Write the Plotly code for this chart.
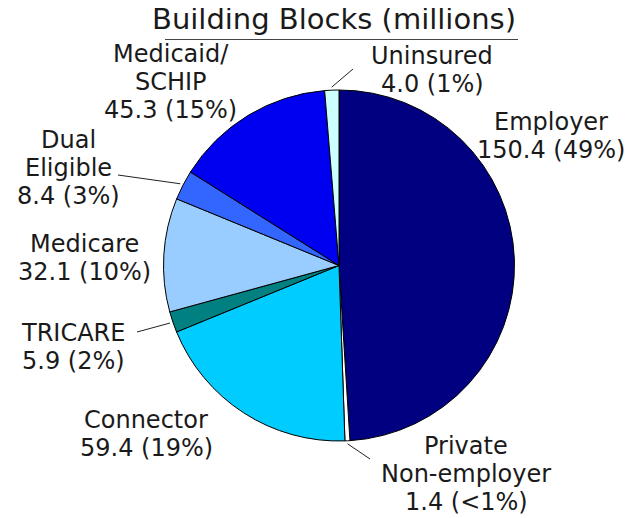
import math
import plotly.graph_objects as go

# ---- data ----
categories = ["Employer", "Private Non-employer", "Connector", "TRICARE",
              "Medicare", "Dual Eligible", "Medicaid/SCHIP", "Uninsured"]
name_lines = [["Employer"], ["Private", "Non-employer"], ["Connector"], ["TRICARE"],
              ["Medicare"], ["Dual", "Eligible"], ["Medicaid/", "SCHIP"], ["Uninsured"]]
values = [150.4, 1.4, 59.4, 5.9, 32.1, 8.4, 45.3, 4.0]
colors = ["#000080", "#FFFFFF", "#00CCFF", "#008080",
          "#99CCFF", "#3366FF", "#0000F0", "#CCFFFF"]
title_text = "Building Blocks (millions)"

# ---- layout constants (page pixels) ----
W, H = 637, 518
OFF = 8  # page body margin
CX, CY, R = 339, 265.5, 175.5
FONT = "DejaVu Sans"
TXT = "#1a1a1a"
LABEL_SIZE = 24
PITCH = 28
# label block centres (x, y of middle of the block)
label_pos = {
    "Employer": (551, 136),
    "Private Non-employer": (466, 474),
    "Connector": (146, 434),
    "TRICARE": (73, 347),
    "Medicare": (84, 258),
    "Dual Eligible": (68, 168),
    "Medicaid/SCHIP": (170.5, 82),
    "Uninsured": (432, 70),
}
# leader line outer ends (near label)
leader_end = {
    "Uninsured": (353, 69),
    "Dual Eligible": (118, 175),
    "TRICARE": (137, 332),
    "Private Non-employer": (370, 459),
}


def px(x):
    return (x - OFF) / W


def py(y):
    return 1 - (y - OFF) / H


total = sum(values)


def pct_text(v):
    p = v / total * 100
    return "<1%" if p < 0.5 else f"{round(p)}%"


fig = go.Figure(go.Pie(
    labels=categories,
    values=values,
    sort=False,
    direction="clockwise",
    rotation=0,
    marker=dict(colors=colors, line=dict(color="#000000", width=1)),
    textinfo="none",
    hoverinfo="label+value+percent",
    showlegend=False,
    domain=dict(x=[px(CX - R), px(CX + R)], y=[py(CY + R), py(CY - R)]),
))

annotations = []
shapes = []
cum = 0.0
for cat, names, v in zip(categories, name_lines, values):
    mid = (cum + v / 2) / total * 2 * math.pi
    cum += v
    lx, ly = label_pos[cat]
    lines = names + [f"{v:.1f} ({pct_text(v)})"]
    n = len(lines)
    for i, t in enumerate(lines):
        yy = ly + (i - (n - 1) / 2) * PITCH
        annotations.append(dict(
            x=px(lx), y=py(yy), xref="paper", yref="paper", text=t,
            showarrow=False, xanchor="center", yanchor="middle", align="center",
            font=dict(family=FONT, size=LABEL_SIZE, color=TXT),
        ))
    if cat in leader_end:
        sx = CX + (R + 3) * math.sin(mid)
        sy = CY - (R + 3) * math.cos(mid)
        ex, ey = leader_end[cat]
        shapes.append(dict(type="line", xref="paper", yref="paper",
                           x0=px(sx), y0=py(sy), x1=px(ex), y1=py(ey),
                           line=dict(color="#222222", width=1)))

annotations.append(dict(
    x=px(334), y=py(19), xref="paper", yref="paper", text=title_text,
    showarrow=False, xanchor="center", yanchor="middle",
    font=dict(family=FONT, size=29, color=TXT),
))
shapes.append(dict(type="line", xref="paper", yref="paper",
                   x0=px(165), y0=py(39.5), x1=px(518), y1=py(39.5),
                   line=dict(color="#444444", width=1)))

fig.update_layout(
    width=W, height=H,
    margin=dict(l=0, r=0, t=0, b=0),
    paper_bgcolor="#FFFFFF", plot_bgcolor="#FFFFFF",
    annotations=annotations, shapes=shapes,
)

fig.write_html("out.html")
